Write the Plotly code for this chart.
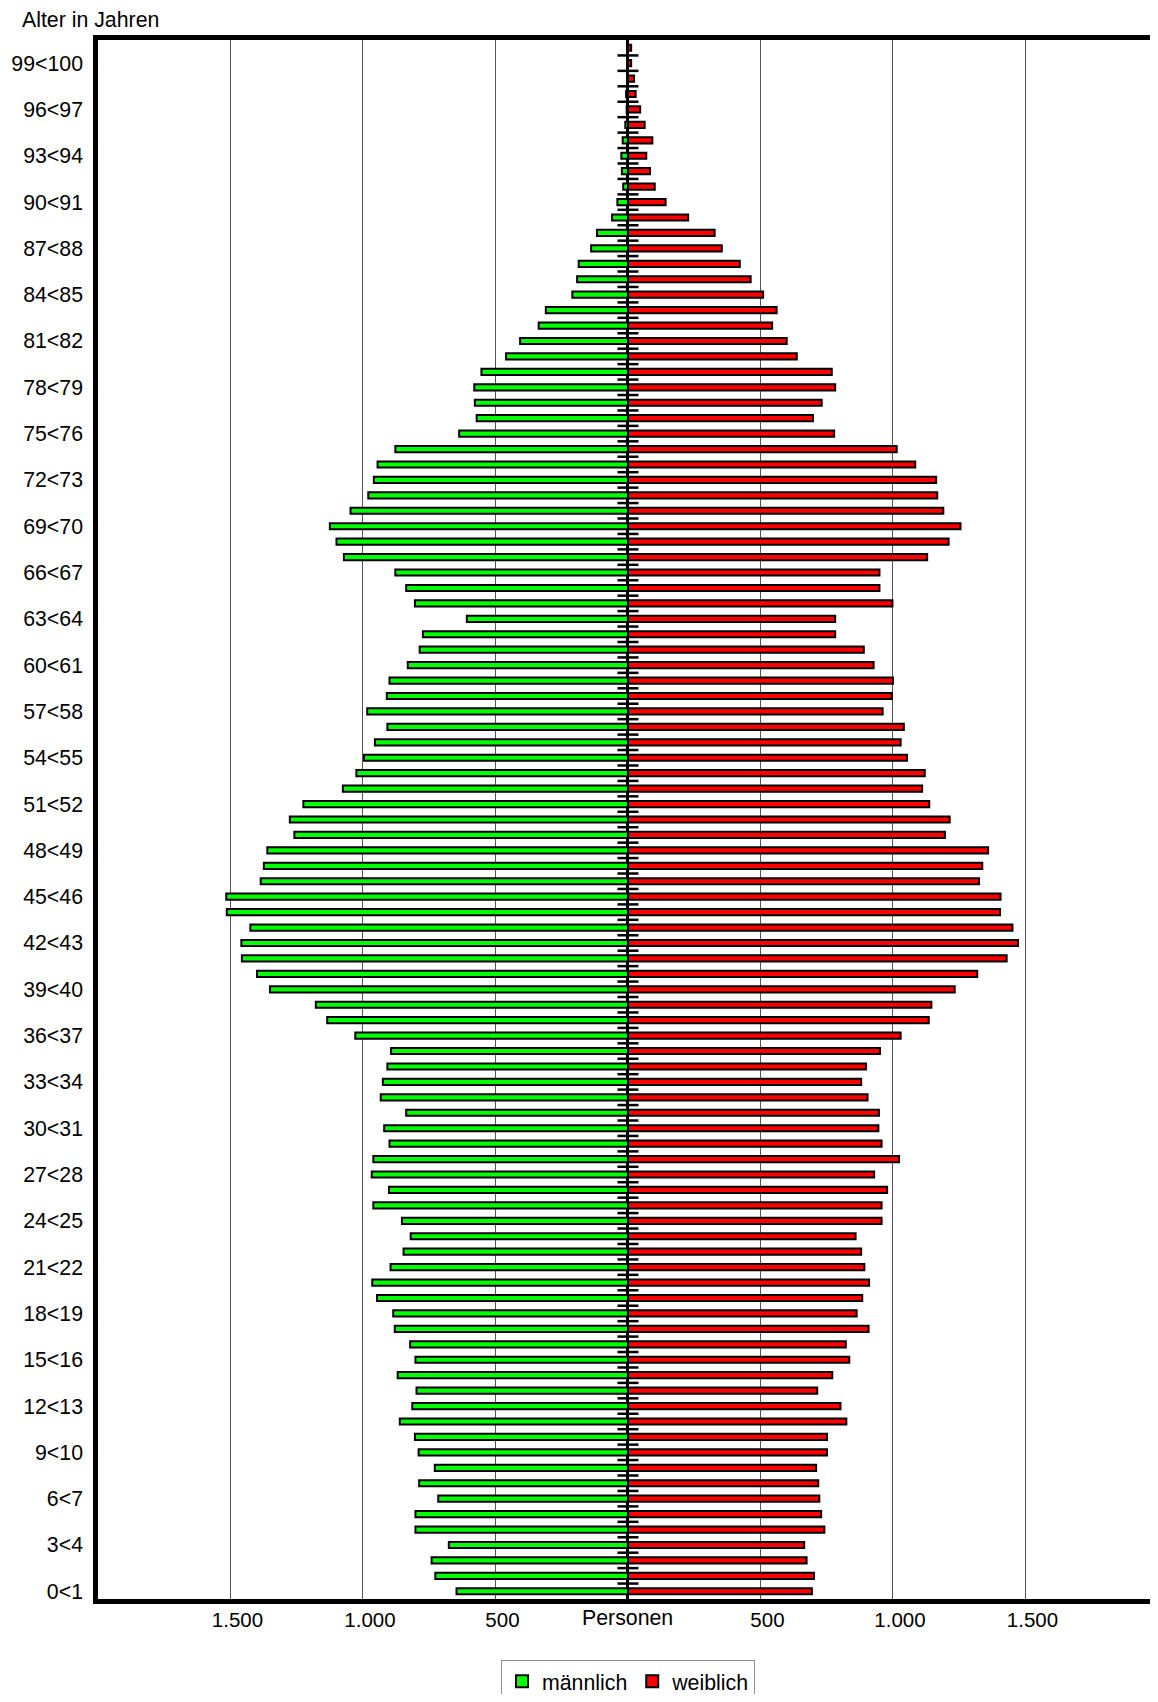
import plotly.graph_objects as go

ages = list(range(0, 101))

# male (männlich) persons per age year 0..100
male = [647, 727, 741, 676, 802, 802, 716, 788, 729, 790, 804,
        861, 814, 798, 869, 802, 822, 880, 886, 947, 965,
        896, 847, 820, 853, 961, 902, 967, 961, 900, 920,
        837, 933, 925, 908, 894, 1029, 1135, 1178, 1351, 1400,
        1457, 1459, 1425, 1514, 1516, 1386, 1374, 1361, 1259, 1276,
        1225, 1076, 1025, 996, 955, 908, 984, 910, 900, 831,
        786, 774, 608, 804, 837, 878, 1072, 1100, 1125, 1047,
        980, 959, 945, 878, 637, 571, 578, 580, 553, 460,
        407, 337, 310, 210, 192, 186, 139, 117, 60, 40,
        18, 23, 25, 20, 10, 5, 7, 3, 3, 3]

# female (weiblich) persons per age year 0..100
female = [694, 702, 674, 665, 741, 729, 722, 718, 710, 751, 751,
          824, 802, 714, 771, 835, 822, 908, 863, 884, 910,
          892, 880, 859, 957, 957, 978, 929, 1023, 957, 945,
          947, 904, 880, 898, 951, 1029, 1135, 1145, 1233, 1318,
          1429, 1472, 1451, 1404, 1406, 1325, 1337, 1359, 1196, 1214,
          1137, 1110, 1120, 1053, 1029, 1041, 961, 996, 1000, 927,
          890, 782, 782, 998, 949, 949, 1129, 1210, 1255, 1190,
          1167, 1163, 1084, 1014, 778, 698, 731, 782, 769, 637,
          599, 544, 561, 510, 463, 422, 354, 327, 227, 142,
          101, 83, 69, 92, 63, 46, 29, 23, 12, 12]

age_tick_vals = list(range(0, 100, 3))
age_tick_text = [f"{a}<{a + 1}" for a in age_tick_vals]

x_tick_vals = [-1500, -1000, -500, 500, 1000, 1500]
x_tick_text = ["1.500", "1.000", "500", "500", "1.000", "1.500"]

FONT = "Arial, Liberation Sans, Helvetica, sans-serif"
FS = 21.3

fig = go.Figure()

fig.add_trace(go.Bar(
    y=ages, x=[-v for v in male], orientation="h", name="männlich",
    marker=dict(color="#00FF00", line=dict(color="black", width=2)),
    width=0.40, customdata=male, hovertemplate="%{customdata}<extra>männlich</extra>",
))
fig.add_trace(go.Bar(
    y=ages, x=female, orientation="h", name="weiblich",
    marker=dict(color="#FF0000", line=dict(color="black", width=2)),
    width=0.40, hovertemplate="%{x}<extra>weiblich</extra>",
))

# little category separator ticks on the centre axis
sep = [a + 0.5 for a in ages[:-1]]
fig.add_trace(go.Scatter(
    x=[0] * len(sep), y=sep, mode="markers", showlegend=False, hoverinfo="skip",
    marker=dict(symbol="line-ew", size=15, color="black", line=dict(color="black", width=2.5)),
))

fig.update_layout(
    width=1142, height=1686,
    margin=dict(l=90, r=0, t=32, b=95, autoexpand=False),
    paper_bgcolor="white", plot_bgcolor="white",
    barmode="overlay",
    font=dict(family=FONT, size=FS, color="black"),
    legend=dict(orientation="h", x=0.5 * (1060 / 1052), xanchor="center", y=-0.0391, yanchor="top",
                bordercolor="#8c8c8c", borderwidth=1, font=dict(size=FS),
                itemwidth=30, traceorder="normal"),
    xaxis=dict(range=[-2000, 1970], tickvals=x_tick_vals, ticktext=x_tick_text,
               tickfont=dict(size=20.5),
               showgrid=True, gridcolor="#555555", gridwidth=1,
               zeroline=True, zerolinecolor="black", zerolinewidth=2.5,
               showline=True, linecolor="black", linewidth=4.5, mirror=True,
               ticks="", ticklabelstandoff=-1, ticklabelshift=7, fixedrange=True),
    yaxis=dict(range=[-0.5, 100.5], tickvals=age_tick_vals, ticktext=age_tick_text,
               showgrid=False, zeroline=False, showline=True, linecolor="black", linewidth=4.5,
               ticks="", ticklabelstandoff=6, fixedrange=True),
    annotations=[
        dict(text="Alter in Jahren", xref="paper", yref="paper", x=0, y=1,
             xanchor="left", yanchor="middle", xshift=-78, yshift=20,
             showarrow=False, font=dict(size=FS)),
        dict(text="Personen", xref="x", yref="paper", x=0, y=0, yanchor="top", yshift=-5,
             showarrow=False, font=dict(size=FS)),
    ],
)

fig.write_html("out.html")
